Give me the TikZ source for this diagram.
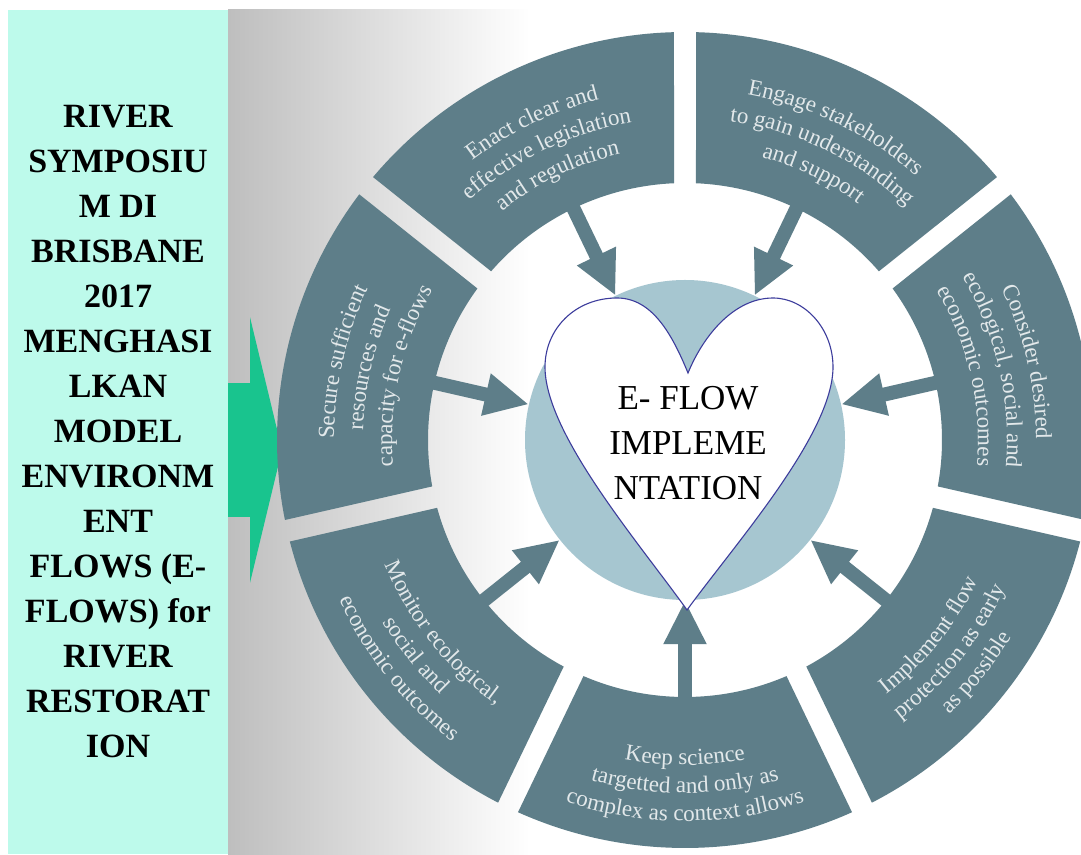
\documentclass[tikz,border=0pt]{standalone}
\usepackage{fontspec}
\setmainfont{Liberation Serif}
\usepackage{tikz}
\usetikzlibrary{positioning}
\usetikzlibrary{arrows.meta,decorations.text}
\definecolor{panelbg}{HTML}{BDFAEB}
\definecolor{flowgreen}{HTML}{19C48E}
\definecolor{ringgray}{HTML}{5E7E89}
\definecolor{hubblue}{HTML}{A6C6D0}
\definecolor{heartline}{HTML}{3C3C9C}
\definecolor{segtext}{HTML}{E2E8EA}
\definecolor{bggray}{HTML}{BEBEBE}

\newcommand\segfont{\fontsize{23}{23}\selectfont}
% one line of text along an arc of the ring
\newcommand\ringline[4]{%
  \pgfmathsetmacro\lnA{#1}\pgfmathsetmacro\lnB{#2}%
  \path[decorate, decoration={text along path, text align=center,
      text color=segtext, text={|\segfont|#4}}]
    (\lnA:#3) arc[start angle=\lnA, end angle=\lnB, radius=#3];}
\newcommand\segup[4]{%
  \ringline{#1+25}{#1-25}{351}{#2}%
  \ringline{#1+25}{#1-25}{322}{#3}%
  \ringline{#1+25}{#1-25}{293}{#4}}
\newcommand\segdown[4]{%
  \ringline{#1-25}{#1+25}{325}{#2}%
  \ringline{#1-25}{#1+25}{353}{#3}%
  \ringline{#1-25}{#1+25}{381}{#4}}

\begin{document}
\begin{tikzpicture}[x=1pt, y=1pt,
  panel/.style = {fill=panelbg, minimum width=220pt, minimum height=844pt,
    inner sep=0pt, align=center, font=\bfseries\fontsize{34}{45}\selectfont},
  bigflow/.style = {draw=flowgreen, line width=134pt,
    -{Triangle[width=265pt, length=32pt]}},
  ringarrow/.style = {draw=ringgray, line width=14pt,
    -{Triangle[width=40pt, length=44pt]}},
  hubdisc/.style = {circle, fill=hubblue, minimum size=320pt, inner sep=0pt},
  hubtext/.style = {align=center, font=\fontsize{35}{45}\selectfont}
]
\useasboundingbox (0,0) rectangle (1081,854);
\clip (0,0) rectangle (1081,854);
\fill[white] (0,0) rectangle (1081,854);
\shade[left color=bggray, right color=white] (228,0) rectangle (530,844);

\node[panel] (panel) at (118,422) {RIVER\\SYMPOSIU\\M DI\\BRISBANE\\2017\\MENGHASI\\LKAN\\MODEL\\ENVIRONM\\ENT\\FLOWS (E-\\FLOWS) for\\RIVER\\RESTORAT\\ION};
\coordinate (flowtip) at (282,404);
\draw[bigflow] (panel.east |- flowtip) -- (flowtip);

\coordinate (ctr) at (685,414);
\node[hubdisc] (hub) at (ctr) {};

\begin{scope}[shift={(ctr)}]
  % ring segments
  \foreach \k in {0,...,6}{
    \pgfmathsetmacro\hi{90-\k*360/7}
    \pgfmathsetmacro\lo{\hi-360/7}
    \pgfmathsetmacro\loA{\lo+2.45}
    \pgfmathsetmacro\loB{\lo+1.55}
    \pgfmathsetmacro\hiA{\hi-2.45}
    \pgfmathsetmacro\hiB{\hi-1.55}
    \fill[ringgray] (\loA:257) -- (\loB:408)
      arc[start angle=\loB, end angle=\hiB, radius=408]
      -- (\hiA:257)
      arc[start angle=\hiA, end angle=\loA, radius=257] -- cycle;
    \pgfmathsetmacro\segmid{90-(\k+0.5)*360/7}
    \coordinate (s\k) at (\segmid:266);
  }
  % texts
  \segup{64.29}{Engage stakeholders}{to gain understanding}{and support}
  \segup{12.86}{Consider desired}{ecological, social and}{economic outcomes}
  \segdown{-38.57}{Implement flow}{protection as early}{as possible}
  \segdown{-90}{Keep science}{targetted and only as}{complex as context allows}
  \segdown{-141.43}{Monitor ecological,}{social and}{economic outcomes}
  \segup{167.14}{Secure sufficient}{resources and}{capacity for e-flows}
  \segup{115.71}{Enact clear and}{effective legislation}{and regulation}
\end{scope}

\foreach \k in {0,...,6}
  \draw[ringarrow] (s\k) -- (hub);

% heart
\draw[heartline, fill=white, line width=1.1pt] (688,481)
  .. controls (672,520) and (652,556) .. (617,556)
  .. controls (575,556) and (545,525) .. (545,487)
  .. controls (545,420) and (640,310) .. (687,244)
  .. controls (735,310) and (833,420) .. (833,487)
  .. controls (833,525) and (805,556) .. (773,556)
  .. controls (735,556) and (704,520) .. (688,481) -- cycle;

\node[hubtext] (title) at (688,411) {E- FLOW\\IMPLEME\\NTATION};
\end{tikzpicture}
\end{document}
